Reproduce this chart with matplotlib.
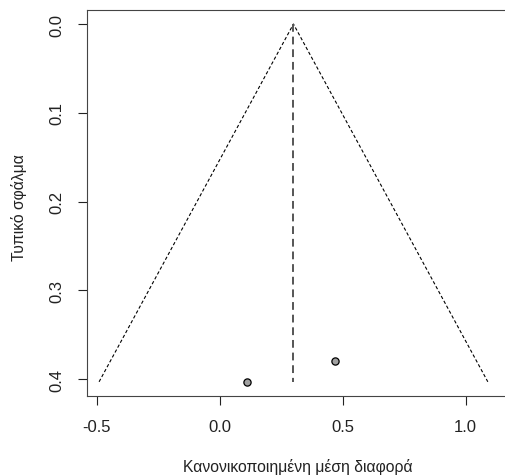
import numpy as np
import matplotlib.pyplot as plt

plt.rcParams['font.family'] = ['Liberation Sans', 'DejaVu Sans']

# -------------------------------
# Study estimates and standard errors
# -------------------------------
smd = [0.112, 0.469]
se = [0.403, 0.380]
pooled = 0.30
se_max = 0.403

x_ticks = [-0.5, 0.0, 0.5, 1.0]
y_ticks = [0.0, 0.1, 0.2, 0.3, 0.4]

# -------------------------------
# Funnel plot
# -------------------------------
fig = plt.figure(figsize=(5.06, 4.77), dpi=100)
W, H = 506, 477
left, right, top, bottom = 87, 510, 11, 397
ax = fig.add_axes([left / W, 1 - bottom / H, (right - left) / W, (bottom - top) / H])

# 95% pseudo-confidence limits
ax.plot([pooled - 1.96 * se_max, pooled, pooled + 1.96 * se_max], [se_max, 0, se_max],
        color='black', lw=0.8, linestyle=(0, (3, 2)))
ax.plot([pooled, pooled], [0, se_max], color='#555555', lw=1.4, linestyle=(0, (4, 2.5)))

ax.plot(smd, se, 'o', markersize=5.2, markerfacecolor='#a0a0a0',
        markeredgecolor='black', markeredgewidth=0.9)

ax.set_xlim(-0.539, 1.180)
ax.set_ylim(0.419, -0.0158)

ax.set_xticks(x_ticks)
ax.set_xticklabels(['-0.5', '0.0', '0.5', '1.0'])
ax.set_yticks(y_ticks)
ax.set_yticklabels(['0.0', '0.1', '0.2', '0.3', '0.4'], rotation=90, va='center')
ax.tick_params(axis='both', direction='out', length=6.5, width=0.8, color='#222222',
               labelsize=12, labelcolor='#222222')
ax.tick_params(axis='x', pad=10)
ax.tick_params(axis='y', pad=10)

for s in ax.spines.values():
    s.set_color('#444444')
    s.set_linewidth(0.8)
ax.spines['right'].set_visible(False)

ax.set_xlabel('Κανονικοποιημένη μέση διαφορά', fontsize=11.3, color='#222222', va='center')
ax.xaxis.set_label_coords(0.498, -0.181)
ax.set_ylabel('Τυπικό σφάλμα', fontsize=11.3, color='#222222', va='center')
ax.yaxis.set_label_coords(-0.1615, 0.49)

fig.savefig('out.png', dpi=100)
